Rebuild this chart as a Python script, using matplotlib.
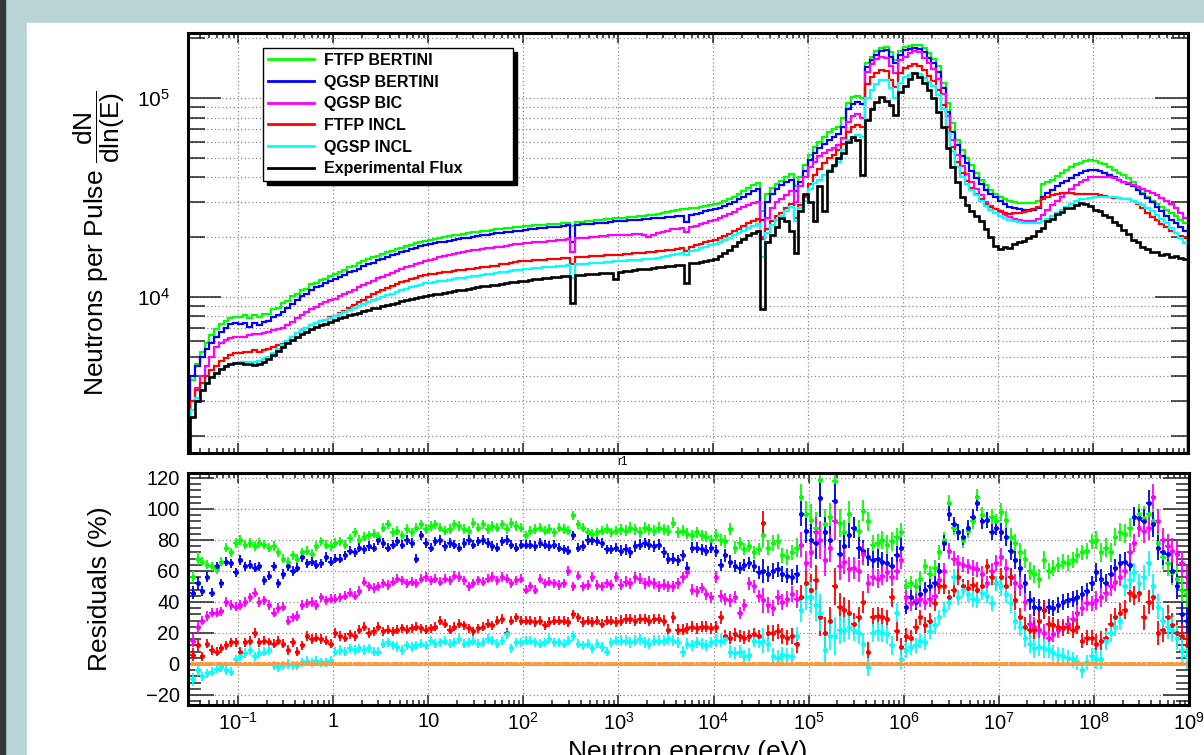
import numpy as np
import matplotlib
matplotlib.use("Agg")
import matplotlib.pyplot as plt
from matplotlib.patches import Rectangle
from matplotlib.ticker import (LogLocator, FixedLocator, FixedFormatter,
                               MultipleLocator, NullFormatter)

plt.rcParams['font.family'] = 'Liberation Sans'
plt.rcParams['mathtext.fontset'] = 'custom'
plt.rcParams['mathtext.rm'] = 'Liberation Sans'
plt.rcParams['mathtext.it'] = 'Liberation Sans:italic'
plt.rcParams['mathtext.bf'] = 'Liberation Sans:bold'

# energy binning: 20 bins per decade from 10^-1.5 eV to 10^9 eV
edges = np.logspace(-1.5, 9.0, 211)
centers = np.sqrt(edges[:-1] * edges[1:])

# ---- flux per bin, in thousands of neutrons per pulse ----
ftfp_bert = [
    3.8, 4.6, 5.3, 5.9, 6.4, 6.9, 7.3, 7.6, 7.8, 7.9,
    7.9, 8.1, 7.8, 8.1, 7.9, 8.2, 8.2, 8.7, 8.8, 9.3, 9.5, 10.1, 10.3, 10.9, 11.0, 11.6, 11.7, 12.2, 12.3, 12.8,
    13.0, 13.4, 13.7, 14.1, 14.4, 14.8, 15.1, 15.5, 15.8, 16.1, 16.5, 16.8, 17.1, 17.4, 17.7, 18.0, 18.3, 18.6, 18.9, 19.2,
    19.4, 19.6, 19.8, 20.0, 20.2, 20.4, 20.6, 20.8, 21.0, 21.2, 21.3, 21.5, 21.6, 21.8, 21.9, 22.0, 22.2, 22.3, 22.4, 22.6,
    22.7, 22.8, 22.9, 23.0, 23.1, 23.2, 23.3, 23.4, 23.5, 23.6, 22.8, 23.8, 23.9, 24.0, 24.2, 24.3, 24.5, 24.6, 24.8, 24.9,
    25.0, 25.1, 25.2, 25.4, 25.5, 25.7, 25.8, 26.0, 26.2, 26.5, 26.8, 27.0, 27.3, 27.6, 27.8, 28.0, 28.2, 28.5, 28.7, 29.0,
    29.3, 29.8, 30.5, 31.2, 32.0, 33.0, 34.2, 35.5, 36.8, 37.5, 27.0, 33.0, 35.5, 37.0, 38.3, 40.0, 41.5, 36.0, 40.0, 46.0,
    52, 57, 60, 64, 68, 70, 72, 80, 95, 101, 103, 100, 150, 162, 172, 178, 182, 170, 156, 172,
    181, 184, 186, 185, 178, 168, 158, 145, 120, 95, 75, 62, 55, 50, 46, 42, 39, 36.5, 34.5, 33,
    32, 31, 30.3, 30, 29.8, 29.6, 29.7, 29.8, 30.5, 37.0, 38.0, 39.0, 40.5, 42.0, 43.5, 45.0, 46.5, 47.5, 48.5, 49.0,
    48.5, 47.5, 46.5, 45.0, 43.5, 42.0, 41.0, 39.5, 38.0, 35.5, 33.5, 32.0, 30.5, 29.5, 28.5, 27.5, 26.5, 25.5, 24.5, 23.5,
]
qgsp_bert = [
    4.0, 4.5, 5.0, 5.5, 5.9, 6.3, 6.7, 7.0, 7.3, 7.4,
    7.3, 7.4, 7.1, 7.4, 7.2, 7.5, 7.6, 7.9, 8.1, 8.4, 8.8, 9.2, 9.6, 10.1, 10.4, 10.8, 11.2, 11.4, 11.8, 12.1,
    12.3, 12.6, 12.9, 13.3, 13.5, 13.9, 14.3, 14.6, 14.9, 15.3, 15.5, 15.9, 16.2, 16.5, 16.8, 17.1, 17.4, 17.7, 18.0, 18.3,
    18.4, 18.6, 18.8, 19.0, 19.2, 19.4, 19.6, 19.8, 19.9, 20.1, 20.3, 20.4, 20.6, 20.7, 20.9, 21.0, 21.2, 21.3, 21.5, 21.6,
    21.8, 21.9, 22.0, 22.2, 22.3, 22.4, 22.5, 22.6, 22.7, 22.9, 18.8, 23.1, 23.2, 23.3, 23.4, 23.5, 23.6, 23.7, 23.8, 24.0,
    24.1, 24.2, 24.3, 24.4, 24.5, 24.6, 24.8, 24.9, 25.0, 25.1, 25.2, 25.4, 25.5, 25.7, 23.8, 26.0, 26.3, 26.6, 27.0, 27.3,
    27.7, 28.2, 28.8, 29.5, 30.2, 31.0, 32.0, 33.0, 34.0, 34.8, 24.5, 30.0, 33.0, 35.0, 36.5, 38.0, 39.0, 34.0, 38.0, 43.0,
    49, 53, 56, 59, 62, 64, 66, 72, 88, 94, 96, 94, 143, 155, 165, 172, 175, 162, 150, 166,
    175, 177, 178, 176, 170, 160, 150, 135, 112, 85, 68, 58, 51, 47, 43, 39.5, 37, 34.5, 33, 32,
    30.5, 29.5, 28.5, 28.0, 27.6, 27.4, 27.3, 27.5, 28.0, 32.0, 33.5, 34.5, 36.0, 37.3, 38.5, 39.8, 41.0, 42.2, 43.0, 43.5,
    43.5, 43.0, 42.0, 41.0, 40.0, 39.0, 38.0, 37.0, 36.0, 34.5, 33.0, 31.5, 30.0, 28.5, 27.0, 25.5, 24.5, 23.5, 22.5, 21.5,
]
qgsp_bic = [
    3.0, 3.5, 4.0, 4.5, 5.0, 5.6, 5.9, 6.1, 6.2, 6.3,
    6.3, 6.3, 6.4, 6.5, 6.5, 6.6, 6.7, 6.8, 6.9, 7.0, 7.2, 7.5, 7.8, 8.1, 8.4, 8.7, 8.9, 9.2, 9.4, 9.6,
    9.8, 10.1, 10.4, 10.6, 10.9, 11.2, 11.5, 11.8, 12.1, 12.4, 12.6, 12.9, 13.2, 13.5, 13.8, 14.1, 14.4, 14.7, 14.9, 15.2,
    15.4, 15.6, 15.8, 16.0, 16.2, 16.4, 16.6, 16.8, 17.0, 17.2, 17.3, 17.5, 17.6, 17.7, 17.8, 17.9, 18.1, 18.2, 18.4, 18.5,
    18.6, 18.7, 18.8, 18.9, 19.0, 19.1, 19.2, 19.3, 19.4, 19.5, 16.8, 19.7, 19.8, 19.9, 20.0, 20.1, 20.2, 20.3, 20.4, 20.5,
    20.5, 20.6, 20.6, 20.7, 20.8, 20.5, 20.0, 20.6, 21.0, 21.3, 21.6, 21.9, 22.1, 22.3, 21.2, 22.5, 22.8, 23.2, 23.6, 24.0,
    24.4, 25.0, 25.6, 26.2, 26.9, 27.6, 28.3, 29.0, 29.7, 30.2, 20.0, 25.0, 28.0, 30.0, 31.0, 32.5, 34.0, 30.0, 36.0, 40.0,
    45, 48, 51, 53, 55, 56, 58, 63, 76, 81, 83, 80, 135, 148, 157, 162, 160, 146, 134, 155,
    162, 168, 172, 170, 160, 150, 140, 125, 105, 81, 62, 52, 45.5, 41.5, 38, 35, 32.5, 30, 28.7, 27.8,
    26.8, 25.8, 25.2, 24.8, 24.5, 24.2, 24.0, 24.2, 24.8, 26.0, 27.5, 29.0, 30.5, 32.0, 33.5, 35.0, 36.5, 38.0, 39.0, 40.0,
    40.2, 40.3, 40.2, 40.0, 39.8, 39.0, 38.0, 37.3, 36.5, 35.8, 35.0, 34.3, 33.5, 32.5, 31.5, 30.5, 29.5, 28.0, 26.5, 25.0,
]
ftfp_incl = [
    3.0, 3.4, 3.7, 4.0, 4.3, 4.5, 4.75, 4.95, 5.1, 5.2,
    5.2, 5.3, 5.3, 5.4, 5.3, 5.4, 5.5, 5.6, 5.7, 5.8, 6.0, 6.3, 6.6, 6.8, 7.0, 7.2, 7.4, 7.6, 7.7, 7.9,
    8.0, 8.3, 8.5, 8.8, 9.1, 9.4, 9.7, 10.0, 10.3, 10.6, 10.9, 11.1, 11.4, 11.6, 11.9, 12.1, 12.3, 12.5, 12.7, 12.9,
    13.0, 13.1, 13.2, 13.3, 13.4, 13.5, 13.6, 13.7, 13.8, 13.9, 14.0, 14.1, 14.2, 14.3, 14.4, 14.6, 14.7, 14.9, 15.0, 15.1,
    15.2, 15.2, 15.3, 15.4, 15.4, 15.5, 15.5, 15.6, 15.7, 15.7, 14.6, 15.8, 15.9, 15.9, 16.0, 16.0, 16.1, 16.2, 16.2, 16.3,
    16.3, 16.4, 16.5, 16.6, 16.6, 16.7, 16.8, 16.9, 17.0, 17.1, 17.2, 17.3, 17.4, 17.6, 17.0, 17.9, 18.2, 18.5, 18.8, 19.1,
    19.4, 19.8, 20.3, 20.8, 21.4, 22.0, 22.7, 23.5, 24.2, 24.8, 19.5, 22.0, 24.0, 25.5, 26.5, 28.0, 29.5, 25.0, 29.0, 32.0,
    37, 41, 44, 47, 50, 52, 55, 59, 68, 72, 73, 72, 118, 128, 134, 138, 137, 124, 114, 134,
    142, 146, 148, 146, 138, 130, 122, 110, 92, 72, 57, 48, 42, 38.5, 35.5, 33, 31, 29.5, 28.5, 27.8,
    27.0, 26.5, 26.3, 26.4, 26.6, 26.9, 27.2, 27.6, 28.5, 31.0, 32.0, 32.5, 33.0, 33.2, 33.3, 33.2, 33.0, 33.0, 33.1, 33.0,
    32.8, 32.5, 32.2, 31.8, 31.6, 31.5, 31.3, 31.0, 30.5, 29.5, 28.0, 26.5, 25.3, 24.3, 23.3, 22.4, 21.6, 20.9, 20.3, 19.7,
]
qgsp_incl = [
    2.7, 3.1, 3.4, 3.7, 3.95, 4.15, 4.35, 4.5, 4.6, 4.65,
    4.7, 4.7, 4.7, 4.7, 4.75, 4.85, 5.0, 5.25, 5.5, 5.75, 6.0, 6.3, 6.55, 6.8, 7.0, 7.2, 7.4, 7.55, 7.7, 7.85,
    8.0, 8.2, 8.4, 8.6, 8.8, 9.0, 9.2, 9.4, 9.6, 9.8, 10.0, 10.2, 10.4, 10.6, 10.8, 11.0, 11.2, 11.4, 11.55, 11.7,
    11.8, 11.9, 12.0, 12.1, 12.2, 12.3, 12.4, 12.5, 12.6, 12.7, 12.8, 12.9, 13.0, 13.1, 13.2, 13.3, 13.4, 13.5, 13.6, 13.7,
    13.8, 13.9, 14.0, 14.0, 14.1, 14.2, 14.2, 14.3, 14.4, 14.5, 12.5, 14.6, 14.7, 14.7, 14.8, 14.8, 14.9, 15.0, 15.0, 15.1,
    15.1, 15.2, 15.3, 15.3, 15.4, 15.5, 15.5, 15.6, 15.7, 15.9, 16.0, 16.2, 16.4, 16.6, 16.2, 17.0, 17.3, 17.6, 17.9, 18.2,
    18.5, 18.9, 19.4, 19.9, 20.4, 21.0, 21.6, 22.2, 22.8, 23.2, 15.9, 21.0, 23.0, 24.5, 25.5, 27.0, 28.5, 24.0, 28.0, 30.5,
    35, 37.3, 39, 41, 43.5, 45, 48, 55, 62, 64, 65, 64, 100, 110, 118, 123, 124, 112, 100, 120,
    128, 131, 134, 133, 127, 121, 115, 104, 88, 67, 54, 45, 40, 37, 34.5, 32.5, 30.5, 28.8, 27.5, 26.5,
    25.6, 25.0, 24.5, 24.2, 23.9, 23.6, 23.5, 23.5, 23.7, 24.0, 24.8, 25.6, 26.5, 27.5, 28.5, 29.5, 30.3, 31.0, 31.3, 31.5,
    31.8, 32.0, 32.0, 32.0, 31.8, 31.5, 31.3, 31.0, 30.5, 29.8, 29.0, 28.0, 27.0, 26.0, 24.8, 23.5, 22.3, 21.0, 19.8, 18.7,
]
exp_flux = [
    2.5, 3.0, 3.4, 3.7, 3.95, 4.15, 4.35, 4.5, 4.6, 4.65,
    4.65, 4.62, 4.58, 4.55, 4.6, 4.72, 4.9, 5.1, 5.35, 5.6, 5.85, 6.1, 6.3, 6.5, 6.7, 6.9, 7.05, 7.2, 7.35, 7.5,
    7.65, 7.8, 7.95, 8.1, 8.2, 8.35, 8.5, 8.6, 8.75, 8.85, 9.0, 9.1, 9.25, 9.35, 9.5, 9.6, 9.75, 9.85, 9.95, 10.1,
    10.2, 10.3, 10.4, 10.5, 10.6, 10.7, 10.8, 10.9, 11.0, 11.1, 11.2, 11.3, 11.4, 11.45, 11.55, 11.65, 11.75, 11.85, 11.95, 12.05,
    12.1, 12.2, 12.3, 12.35, 12.4, 12.5, 12.55, 12.6, 12.7, 12.75, 9.3, 12.9, 12.95, 13.0, 13.05, 13.1, 13.15, 13.2, 13.25, 12.3,
    13.4, 13.5, 13.55, 13.65, 13.75, 13.85, 13.9, 14.0, 14.1, 14.2, 14.3, 14.35, 14.45, 14.5, 11.8, 14.8, 14.9, 15.0, 15.2, 15.4,
    15.6, 16.0, 16.6, 17.3, 18.0, 18.8, 19.6, 20.4, 21.0, 21.5, 8.7, 19.0, 20.5, 22.5, 25.0, 24.0, 21.5, 16.6, 27.0, 33.0,
    30, 24, 36, 27, 43, 46, 50, 53, 60, 64, 62, 41, 78, 88, 96, 101, 97, 93, 82, 108,
    115, 125, 134, 128, 120, 110, 100, 85, 72, 56, 45, 38, 32, 29, 27, 25.5, 24, 22, 20, 18,
    17.4, 17.9, 17.6, 18.4, 18.9, 19.1, 19.9, 20.3, 21.6, 22.3, 24.1, 24.8, 26.2, 26.8, 27.9, 28.1, 28.9, 29.6, 29.3, 28.6,
    27.5, 27.1, 25.8, 25.2, 23.8, 23.1, 21.8, 20.7, 19.4, 18.8, 17.9, 17.4, 16.9, 16.8, 16.2, 16.4, 15.9, 16.1, 15.7, 15.5,
]

# ---- residuals (%) of each model against the measured flux ----
res_ftfp_bert = [
    56, 68, 66, 64, 63, 61, 66, 75, 72, 78,
    80, 77, 78, 76, 78, 77, 75, 76, 72, 68, 66, 70, 68, 72, 73, 71, 76, 79, 77, 76,
    78, 79, 77, 81, 85, 80, 82, 83, 84, 82, 88, 90, 85, 86, 83, 87, 85, 88, 90, 87,
    89, 90, 88, 86, 87, 90, 89, 87, 86, 91, 88, 90, 87, 89, 88, 90, 87, 91, 89, 88,
    83, 86, 87, 88, 86, 87, 85, 88, 87, 86, 96, 90, 88, 85, 84, 85, 86, 87, 85, 86,
    87, 86, 88, 87, 85, 88, 87, 86, 88, 87, 86, 91, 85, 86, 84, 83, 85, 83, 82, 80,
    83, 80, 79, 87, 75, 78, 74, 76, 72, 74, 83, 75, 78, 79, 70, 69, 72, 75, 108, 97,
    93, 88, 119, 90, 95, 118, 91, 85, 97, 88, 86, 99, 92, 77, 78, 80, 77, 79, 82, 85,
    50, 52, 50, 55, 63, 58, 62, 72, 80, 104, 88, 85, 80, 86, 92, 108, 96, 93, 95, 92,
    98, 93, 82, 78, 72, 68, 60, 58, 55, 67, 60, 62, 64, 66, 65, 67, 70, 72, 73, 79,
    80, 72, 75, 72, 82, 85, 84, 88, 95, 97, 94, 97, 92, 78, 69, 65, 59, 55, 48, 45,
]
res_qgsp_bert = [
    46, 52, 47, 56, 46, 63, 52, 66, 65, 59,
    67, 63, 64, 62, 63, 54, 57, 63, 52, 58, 63, 60, 62, 69, 65, 66, 64, 65, 69, 66,
    68, 68, 70, 73, 72, 75, 74, 76, 75, 80, 78, 75, 77, 79, 77, 80, 78, 68, 83, 78,
    75, 79, 80, 76, 78, 77, 75, 78, 80, 77, 79, 80, 78, 76, 75, 79, 80, 77, 75, 77,
    77, 77, 76, 78, 77, 76, 77, 75, 74, 73, 83, 75, 76, 80, 80, 79, 78, 74, 74, 75,
    73, 74, 72, 76, 77, 78, 77, 76, 77, 72, 68, 68, 67, 70, 62, 75, 75, 74, 73, 75,
    73, 64, 70, 66, 63, 62, 64, 65, 63, 59, 60, 58, 60, 61, 58, 57, 56, 58, 97, 86,
    80, 78, 107, 85, 80, 105, 71, 76, 83, 88, 75, 73, 69, 67, 68, 66, 65, 63, 70, 75,
    37, 43, 40, 45, 48, 50, 52, 60, 78, 97, 90, 85, 82, 88, 95, 104, 92, 93, 85, 88,
    85, 82, 73, 67, 62, 52, 41, 37, 36, 35, 37, 36, 38, 40, 41, 42, 43, 45, 47, 52,
    59, 55, 52, 58, 62, 65, 66, 64, 95, 94, 92, 104, 90, 75, 72, 71, 60, 50, 32, 28,
]
res_qgsp_bic = [
    15, 24, 28, 31, 33, 33, 34, 40, 38, 37,
    38, 40, 43, 46, 40, 41, 38, 33, 36, 37, 28, 30, 31, 38, 39, 40, 38, 43, 41, 42,
    42, 43, 44, 46, 44, 47, 53, 50, 49, 50, 52, 51, 53, 55, 54, 52, 53, 52, 55, 56,
    54, 55, 53, 55, 54, 57, 56, 54, 50, 52, 54, 53, 55, 56, 54, 56, 55, 52, 54, 55,
    48, 50, 48, 55, 52, 53, 52, 51, 52, 60, 50, 57, 50, 51, 56, 51, 50, 52, 51, 56,
    51, 53, 52, 56, 55, 52, 53, 52, 50, 51, 50, 50, 52, 56, 59, 48, 47, 49, 45, 43,
    56, 44, 42, 41, 43, 33, 38, 52, 50, 44, 41, 38, 36, 43, 40, 42, 45, 42, 77, 65,
    72, 85, 80, 67, 75, 92, 63, 66, 61, 62, 60, 71, 52, 56, 55, 57, 59, 56, 60, 67,
    43, 39, 41, 42, 40, 42, 44, 54, 60, 73, 68, 65, 64, 63, 62, 61, 58, 52, 60, 65,
    69, 62, 56, 52, 50, 40, 26, 24, 22, 20, 17, 19, 22, 24, 26, 29, 33, 36, 39, 39,
    41, 43, 46, 50, 53, 56, 60, 72, 78, 88, 86, 88, 108, 92, 80, 76, 73, 71, 65, 56,
]
res_ftfp_incl = [
    6, 12, 5, 13, 9, 8, 10, 12, 14, 14,
    8, 14, 15, 20, 14, 15, 14, 13, 15, 13, 9, 14, 8, 12, 18, 16, 17, 16, 15, 13,
    20, 18, 17, 19, 18, 22, 24, 20, 21, 24, 21, 22, 21, 22, 23, 22, 23, 24, 23, 22,
    23, 24, 28, 26, 22, 24, 26, 25, 23, 21, 23, 24, 26, 25, 28, 29, 20, 28, 30, 28,
    28, 28, 27, 28, 25, 27, 28, 28, 28, 27, 32, 30, 27, 28, 27, 28, 26, 28, 28, 27,
    28, 29, 29, 28, 29, 29, 28, 29, 29, 28, 22, 30, 22, 22, 23, 24, 23, 24, 24, 23,
    24, 30, 18, 17, 19, 18, 17, 18, 19, 18, 91, 20, 20, 21, 18, 17, 18, 13, 43, 52,
    48, 54, 30, 20, 28, 50, 37, 35, 33, 26, 30, 40, 8, 30, 31, 30, 29, 43, 21, 11,
    18, 17, 24, 30, 25, 28, 39, 50, 50, 43, 48, 56, 50, 49, 51, 48, 50, 63, 56, 52,
    56, 50, 56, 41, 30, 24, 22, 22, 28, 35, 26, 25, 24, 23, 24, 22, 24, 15, 17, 17,
    13, 15, 17, 26, 30, 33, 35, 46, 44, 46, 30, 40, 43, 20, 22, 30, 25, 20, 18, 12,
]
res_qgsp_incl = [
    -10, -4, -8, -6, -5, -3, -2, -4, -5, 3,
    5, 7, 9, 5, 7, 8, 9, -1, -2, -1, 0, -1, -1, 1, 2, 1, 2, 1, 1, 2,
    8, 9, 8, 10, 9, 10, 9, 10, 8, 8, 13, 14, 12, 11, 9, 12, 11, 12, 13, 12,
    15, 13, 14, 15, 13, 14, 16, 13, 14, 15, 13, 14, 16, 15, 13, 15, 19, 10, 14, 14,
    15, 15, 14, 13, 14, 16, 14, 14, 13, 15, 18, 13, 12, 13, 10, 13, 11, 8, 14, 15,
    15, 15, 14, 15, 16, 14, 13, 15, 15, 15, 16, 15, 14, 8, 13, 12, 14, 13, 12, 14,
    15, 15, 16, 8, 7, 8, 5, 6, 15, 14, 15, 13, 5, 4, 6, 5, 5, 18, 35, 43,
    43, 38, 33, 9, 18, 18, 22, 22, 24, 22, 20, 13, -2, 20, 21, 20, 19, 12, 33, 3,
    9, 11, 12, 15, 14, 21, 25, 30, 35, 40, 56, 43, 48, 45, 42, 41, 46, 44, 39, 52,
    50, 45, 39, 28, 24, 17, 13, 10, 11, 10, 9, 7, 6, 5, 4, 3, 1, -4, 1, 5,
    3, 3, 15, 20, 24, 28, 50, 54, 59, 52, 56, 65, 50, 37, 28, 24, 22, 17, 9, 5,
]
res_exp = [0] * 210
# statistical error on the residuals (%)
res_err = [
    4, 4, 3, 3, 3, 3, 3, 3, 3, 3,
    3, 3, 3, 3, 3, 3, 3, 3, 3, 3, 3, 3, 3, 3, 3, 3, 3, 3, 3, 3,
    3, 3, 3, 3, 3, 3, 3, 3, 3, 3, 3, 3, 3, 3, 3, 3, 3, 3, 3, 3,
    3, 3, 3, 3, 3, 3, 3, 3, 3, 3, 3, 3, 3, 3, 3, 3, 3, 3, 3, 3,
    3, 3, 3, 3, 3, 3, 3, 3, 3, 3, 3, 3, 3, 3, 3, 3, 3, 3, 3, 3,
    3.5, 3.5, 3.5, 3.5, 3.5, 3.5, 3.5, 3.5, 3.5, 3.5, 3.5, 3.5, 3.5, 3.5, 3.5, 3.5, 3.5, 3.5, 3.5, 3.5,
    4, 4, 4, 4, 4, 4, 4, 4, 4, 4, 8, 5, 5, 5, 5, 5, 5, 6, 8, 8,
    10, 10, 12, 10, 9, 12, 9, 8, 8, 7, 7, 7, 6, 6, 6, 6, 6, 6, 6, 6,
    5, 5, 5, 5, 5, 5, 5, 5, 5, 5, 5, 5, 5, 5, 5, 5, 5, 5, 5, 5,
    6, 6, 6, 6, 6, 6, 6, 6, 6, 6, 5, 5, 5, 5, 5, 5, 5, 5, 5, 5,
    6, 6, 6, 6, 6, 6, 6, 6, 6, 6, 8, 8, 8, 8, 8, 8, 8, 8, 8, 8,
]

model_names = ['FTFP BERTINI', 'QGSP BERTINI', 'QGSP BIC', 'FTFP INCL', 'QGSP INCL']
model_colors = ['#00ff00', '#0000ff', '#ff00ff', '#ff0000', '#00ffff']
energy_ticks = [1e-1, 1, 10, 1e2, 1e3, 1e4, 1e5, 1e6, 1e7, 1e8, 1e9]
energy_labels = ['$10^{-1}$', '1', '10', '$10^{2}$', '$10^{3}$', '$10^{4}$',
                 '$10^{5}$', '$10^{6}$', '$10^{7}$', '$10^{8}$', '$10^{9}$']

W, H = 1204, 755
fig = plt.figure(figsize=(W / 100, H / 100), dpi=100)
fig.patch.set_facecolor('#b9d4d4')
fig.add_artist(Rectangle((0, 0), 5 / W, 1, transform=fig.transFigure,
                         color='#2f3739', zorder=-2))
fig.add_artist(Rectangle((27 / W, 0), 1, 1 - 23 / H, transform=fig.transFigure,
                         color='white', zorder=-2))

ax = fig.add_axes([188 / W, 1 - 453 / H, 1000 / W, 420 / H])
axr = fig.add_axes([188 / W, 1 - 705 / H, 1001 / W, 232 / H])

xmin, xmax = 10 ** -1.526, 1e9
grid_kw = dict(color='#8a8a8a', linestyle=(0, (1, 2)), linewidth=0.9)

# ---- flux panel ----
models = [ftfp_bert, qgsp_bert, qgsp_bic, ftfp_incl, qgsp_incl]
for vals, col, name in zip(models, model_colors, model_names):
    ax.stairs(np.array(vals) * 1e3, edges, baseline=1.0, color=col, lw=1.6,
              label=name)
ax.stairs(np.array(exp_flux) * 1e3, edges, baseline=1.0, color='black', lw=1.9,
          label='Experimental Flux')

ax.set_xscale('log')
ax.set_yscale('log')
ax.set_xlim(xmin, xmax)
ax.set_ylim(1640, 2.13e5)
ax.xaxis.set_major_locator(LogLocator(base=10, numticks=30))
ax.xaxis.set_minor_locator(LogLocator(base=10, subs=np.arange(2, 10), numticks=30))
ax.xaxis.set_major_formatter(NullFormatter())
ax.xaxis.set_minor_formatter(NullFormatter())
ax.yaxis.set_minor_locator(LogLocator(base=10, subs=np.arange(2, 10), numticks=30))
ax.yaxis.set_minor_formatter(NullFormatter())
ax.tick_params(which='both', direction='in', top=True, right=True,
               labelbottom=False, color='#222222', width=1.1)
ax.tick_params(axis='x', which='major', length=7.5)
ax.tick_params(axis='x', which='minor', length=3.8)
ax.tick_params(axis='y', which='major', length=24, labelsize=15, pad=13)
ax.tick_params(axis='y', which='minor', length=12)
ax.grid(True, which='major', axis='x', **grid_kw)
ax.grid(True, which='both', axis='y', **grid_kw)
ax.set_axisbelow(True)
for sp in ax.spines.values():
    sp.set_linewidth(2.2)

leg = ax.legend(loc='upper left', bbox_to_anchor=(0.075, 0.655, 0.25, 0.309),
                mode='expand', borderaxespad=0, prop={'weight': 'bold', 'size': 11.5},
                fancybox=False, edgecolor='black', framealpha=1,
                shadow={'ox': 3, 'oy': -3, 'facecolor': 'black',
                        'edgecolor': 'black', 'alpha': 1},
                handlelength=2.9, handletextpad=0.65, labelspacing=0.42,
                borderpad=0.3)
leg.get_frame().set_linewidth(1.0)
for line in leg.get_lines():
    line.set_linewidth(2.0)

fig.text(99 / W, 1 - 243 / H,
         r'Neutrons per Pulse $\dfrac{\mathrm{dN}}{\mathrm{dln(E)}}$',
         rotation=90, ha='center', va='center', fontsize=19)

# ---- residual panel ----
xerr = [centers - edges[:-1], edges[1:] - centers]
residuals = [res_ftfp_bert, res_qgsp_bert, res_qgsp_bic, res_ftfp_incl, res_qgsp_incl]
for vals, col in zip(residuals, model_colors):
    axr.errorbar(centers, vals, yerr=res_err, xerr=xerr, fmt='o', ms=3.6,
                 color=col, ecolor=col, elinewidth=1.3, mew=0, capsize=0)
axr.errorbar(centers, res_exp, xerr=xerr, fmt='s', ms=3.0, color='#ff9a3c',
             ecolor='#ff9a3c', elinewidth=2.2, mew=0, capsize=0)

axr.set_xscale('log')
axr.set_xlim(xmin, xmax)
axr.set_ylim(-26.5, 123.2)
axr.xaxis.set_major_locator(FixedLocator(energy_ticks))
axr.xaxis.set_major_formatter(FixedFormatter(energy_labels))
axr.xaxis.set_minor_locator(LogLocator(base=10, subs=np.arange(2, 10), numticks=30))
axr.xaxis.set_minor_formatter(NullFormatter())
axr.yaxis.set_major_locator(MultipleLocator(20))
axr.yaxis.set_minor_locator(MultipleLocator(4))
axr.tick_params(which='both', direction='in', top=True, right=True,
                color='#222222', width=1.1)
axr.tick_params(axis='x', which='major', length=7.5, labelsize=14.5, pad=5)
axr.tick_params(axis='x', which='minor', length=3.8)
axr.tick_params(axis='y', which='major', length=19, labelsize=14.5, pad=6)
axr.tick_params(axis='y', which='minor', length=9.5)
axr.grid(True, which='major', **grid_kw)
axr.set_axisbelow(True)
for sp in axr.spines.values():
    sp.set_linewidth(2.2)

fig.text(100 / W, 1 - 589 / H, 'Residuals (%)', rotation=90,
         ha='center', va='center', fontsize=19)
fig.text(688 / W, 1 - 740 / H, 'Neutron energy (eV)', ha='center', va='top',
         fontsize=19)
fig.text(622 / W, 1 - 462 / H, 'r1', ha='center', va='center', fontsize=8.5)

fig.savefig('out.png', dpi=100, facecolor=fig.get_facecolor())
